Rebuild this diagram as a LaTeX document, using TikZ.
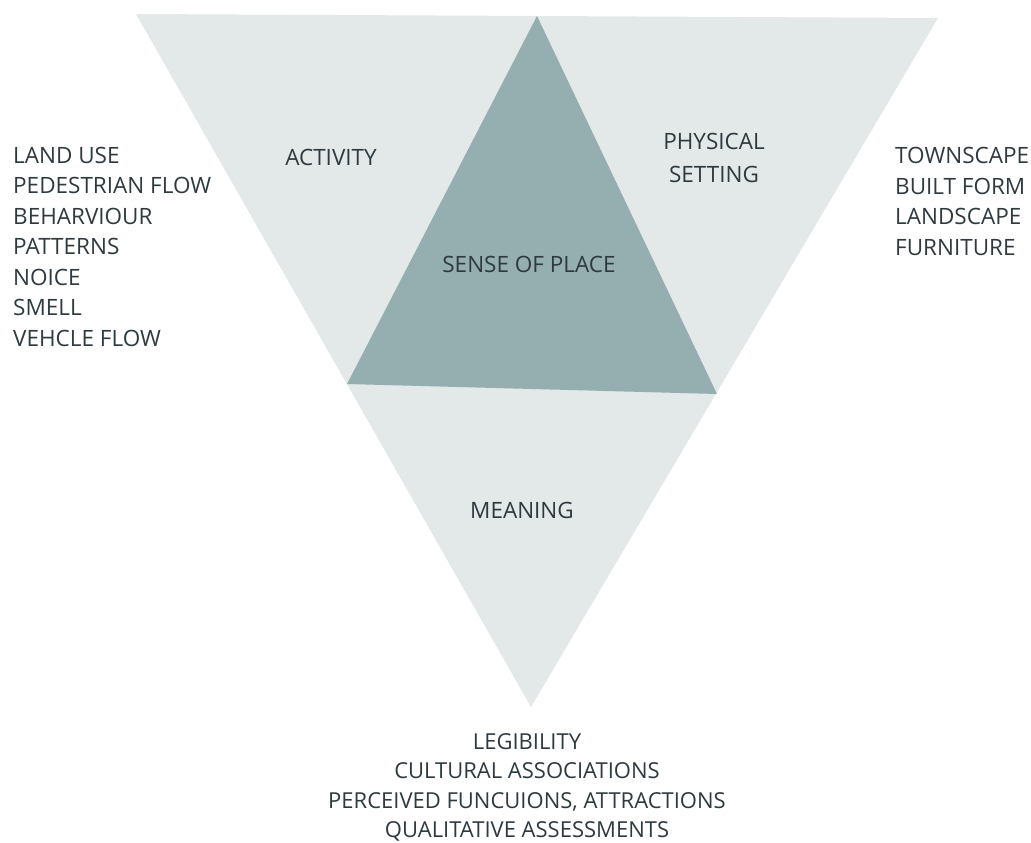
\documentclass[tikz,border=0pt]{standalone}
\usepackage{fontspec}
\setmainfont{Open Sans}
\definecolor{lightc}{HTML}{E3E8E8}
\definecolor{darkc}{HTML}{95AFB0}
\definecolor{txt}{HTML}{2F3A3F}
\begin{document}
\begin{tikzpicture}[x=1pt,y=-1pt,
  lab/.style={text=txt,font=\fontsize{22.5}{30.5}\selectfont,inner sep=0pt},
  listl/.style={lab,align=left},
  listc/.style={lab,align=center}]
\useasboundingbox (0,0) rectangle (1031,843);
\coordinate (TL) at (136,14);
\coordinate (TR) at (938,18);
\coordinate (B) at (531,707);
\coordinate (T) at (537,16);
\coordinate (L) at (347,384);
\coordinate (R) at (717,394);
\fill[lightc] (TL) -- (TR) -- (B) -- cycle;
\fill[darkc] (T) -- (R) -- (L) -- cycle;
\node[lab] (act) at (331,157) {ACTIVITY};
\node[listc,anchor=north,font=\fontsize{22.5}{33}\selectfont] (phys) at (714,133) {PHYSICAL\\SETTING};
\node[lab] (sense) at (529,264) {SENSE OF PLACE};
\node[lab] (mean) at (522,510) {MEANING};
\node[listl,anchor=north west] (left) at (13,147) {LAND USE\\PEDESTRIAN FLOW\\BEHARVIOUR\\PATTERNS\\NOICE\\SMELL\\VEHCLE FLOW};
\node[listl,anchor=north west] (right) at (895,147) {TOWNSCAPE\\BUILT FORM\\LANDSCAPE\\FURNITURE};
\node[listc,anchor=north,font=\fontsize{22}{29.5}\selectfont] (bottom) at (527,733) {LEGIBILITY\\CULTURAL ASSOCIATIONS\\PERCEIVED FUNCUIONS, ATTRACTIONS\\QUALITATIVE ASSESSMENTS};
\end{tikzpicture}
\end{document}
